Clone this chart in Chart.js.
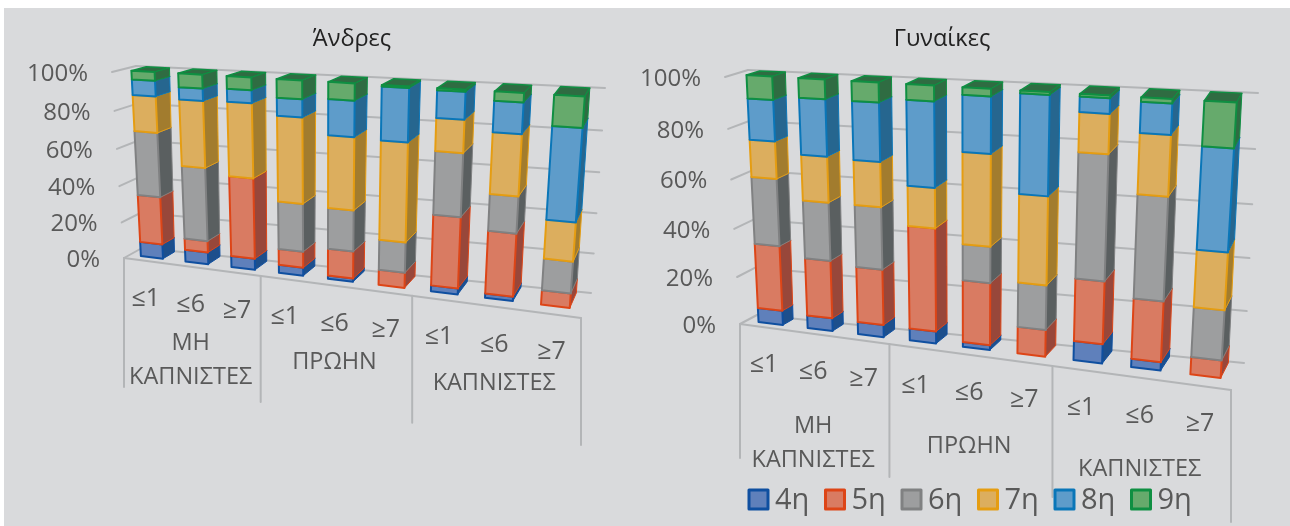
<!DOCTYPE html>
<html lang="el">
  <head>
    <meta charset="UTF-8" />
    <title>Άνδρες / Γυναίκες</title>
    <style>
      html, body {
        margin: 0;
        height: 100%;
        background: #fff;
        overflow: hidden;
      }
      #panel {
        position: absolute;
        left: 4px;
        top: 8px;
        right: 0;
        bottom: 0;
        background: #d9dadc;
      }
      canvas {
        position: absolute;
        top: 0;
      }
    </style>
  </head>
  <body>
    <div id="panel"></div>
    <canvas id="men" width="704" height="526" style="left: 0"></canvas>
    <canvas id="women" width="684" height="526" style="left: 600px"></canvas>

    <script src="https://cdn.jsdelivr.net/npm/chart.js"></script>

    <script>
      const doses = ['≤1', '≤6', '≥7', '≤1', '≤6', '≥7', '≤1', '≤6', '≥7'];
      const groups = [['ΜΗ', 'ΚΑΠΝΙΣΤΕΣ'], ['ΠΡΩΗΝ'], ['ΚΑΠΝΙΣΤΕΣ']];
      const seriesNames = ['4η', '5η', '6η', '7η', '8η', '9η'];
      const yTicks = [0, 20, 40, 60, 80, 100];
      const yTickLabels = ['0%', '20%', '40%', '60%', '80%', '100%'];

      const men4 = [8, 6.5, 6, 4.3, 1.7, 0, 3, 2.2, 0];
      const men5 = [26, 6.2, 42.8, 8.5, 14.2, 7.9, 36, 31.5, 7.2];
      const men6 = [34.5, 39.3, 0, 25.2, 21.3, 15.6, 31.2, 18, 15.7];
      const men7 = [19, 34.7, 38.4, 43.8, 36.7, 49.8, 15.8, 29.4, 18.9];
      const men8 = [8, 6.3, 6.5, 9, 17.8, 26, 13, 14.6, 44];
      const men9 = [4.5, 7, 6.3, 9.2, 8.3, 0.7, 1, 4.3, 14.2];

      const women4 = [6, 5.3, 5, 4.9, 1.9, 0, 7.6, 3.3, 0];
      const women5 = [26.9, 23.7, 22.6, 41.1, 24.8, 10.6, 24.3, 23.3, 6.7];
      const women6 = [27.2, 23.4, 24.8, 0, 14.2, 17.5, 47.2, 38.8, 19];
      const women7 = [14.8, 18.1, 17.6, 15.7, 35.2, 33.9, 14.4, 22, 21.4];
      const women8 = [16.1, 22, 22.5, 32.5, 21.1, 37, 5.5, 11, 37.1];
      const women9 = [9, 7.5, 7.5, 5.8, 2.8, 1, 1, 1.6, 15.8];

      const fills = ['#5f80bb', '#d97b62', '#9d9e9f', '#dcae5e', '#5e9cca', '#66aa6c'];
      const borders = ['#0f4fa0', '#dd4517', '#808182', '#e59d12', '#0a76b8', '#0f8f42'];
      const sides = ['#1d4f8c', '#98473a', '#5a5f60', '#a27c2e', '#26668f', '#2f6c42'];

      const TEXT = '#595959';
      const GRID = '#b3b5b7';
      const FONT = '"Open Sans", "Noto Sans", sans-serif';

      // unit square -> quad, corners in order (0,0) (1,0) (1,1) (0,1)
      function homography([p0, p1, p2, p3]) {
        const dx1 = p1[0] - p2[0];
        const dx2 = p3[0] - p2[0];
        const sx = p0[0] - p1[0] + p2[0] - p3[0];
        const dy1 = p1[1] - p2[1];
        const dy2 = p3[1] - p2[1];
        const sy = p0[1] - p1[1] + p2[1] - p3[1];
        const det = dx1 * dy2 - dx2 * dy1;
        const g = (sx * dy2 - dx2 * sy) / det;
        const h = (dx1 * sy - sx * dy1) / det;
        const a = p1[0] - p0[0] + g * p1[0];
        const b = p3[0] - p0[0] + h * p3[0];
        const d = p1[1] - p0[1] + g * p1[1];
        const e = p3[1] - p0[1] + h * p3[1];
        return (u, v) => {
          const w = g * u + h * v + 1;
          return [(a * u + b * v + p0[0]) / w, (d * u + e * v + p0[1]) / w];
        };
      }

      function polygon(ctx, pts, fill, stroke, lineWidth) {
        ctx.beginPath();
        pts.forEach((p, i) => (i ? ctx.lineTo(p[0], p[1]) : ctx.moveTo(p[0], p[1])));
        ctx.closePath();
        ctx.fillStyle = fill;
        ctx.fill();
        ctx.strokeStyle = stroke;
        ctx.lineWidth = lineWidth;
        ctx.stroke();
      }

      function line(ctx, a, b) {
        ctx.beginPath();
        ctx.moveTo(a[0], a[1]);
        ctx.lineTo(b[0], b[1]);
        ctx.stroke();
      }

      // Draws the stacked bars as boxes standing in a tilted room. Everything
      // is placed from the pixels of the chart's own x and y scales.
      const boxes = {
        id: 'boxes',
        beforeDatasetsDraw(chart) {
          const o = chart.options.plugins.boxes;
          const { ctx, chartArea: area, scales } = chart;
          const shift = (q) => q.map((p) => [p[0] - o.originX, p[1]]);
          const front = homography(shift(o.front));
          const back = homography(shift(o.back));
          const project = (px, py, d) => {
            const u = (px - area.left) / area.width;
            const v = (area.bottom - py) / area.height;
            const f = front(u, v);
            const b = back(u, v);
            return [f[0] + (b[0] - f[0]) * d, f[1] + (b[1] - f[1]) * d];
          };

          ctx.save();
          ctx.lineCap = 'round';
          ctx.strokeStyle = GRID;
          ctx.lineWidth = 2;

          // walls and value labels
          ctx.font = `24px ${FONT}`;
          ctx.textAlign = 'right';
          ctx.textBaseline = 'middle';
          yTicks.forEach((tick, i) => {
            const y = scales.y.getPixelForValue(tick);
            const a = project(area.left, y, 0);
            const b = project(area.left, y, 1);
            const c = project(area.right, y, 1);
            line(ctx, a, b);
            line(ctx, b, c);
            ctx.fillStyle = TEXT;
            ctx.fillText(yTickLabels[i], a[0] - 24, a[1] + 2);
          });

          // floor edge and group separators
          line(ctx, project(area.left, area.bottom, 0), project(area.right, area.bottom, 0));
          o.dropLines.forEach((drop, k) => {
            const p = project(area.left + (area.width * k) / groups.length, area.bottom, 0);
            line(ctx, p, [p[0], p[1] + drop]);
          });

          // category labels
          ctx.textAlign = 'center';
          doses.forEach((label, i) => {
            const p = project(scales.x.getPixelForValue(i), area.bottom, 0);
            ctx.font = `25px ${FONT}`;
            ctx.fillStyle = TEXT;
            ctx.fillText(label, p[0], p[1] + o.doseOffset);
          });
          groups.forEach((lines, k) => {
            const p = project(area.left + (area.width * (k + 0.5)) / groups.length, area.bottom, 0);
            ctx.font = `23.5px ${FONT}`;
            ctx.fillStyle = TEXT;
            lines.forEach((text, j) => {
              ctx.fillText(text, p[0], p[1] + o.groupOffset + j * 34);
            });
          });

          // bars, bottom segment first so that each lid is covered by the next one
          ctx.lineJoin = 'round';
          const { near, far } = o;
          doses.forEach((_, i) => {
            chart.data.datasets.forEach((ds, s) => {
              const el = chart.getDatasetMeta(s).data[i];
              const { x, y, base, width } = el.getProps(['x', 'y', 'base', 'width'], true);
              if (Math.abs(base - y) < 0.01) return;
              const l = x - width / 2;
              const r = x + width / 2;
              polygon(ctx, [project(l, y, near), project(r, y, near), project(r, y, far), project(l, y, far)], ds.sideColor, ds.borderColor, 1.5);
              polygon(ctx, [project(r, base, near), project(r, base, far), project(r, y, far), project(r, y, near)], ds.sideColor, ds.borderColor, 1);
              polygon(ctx, [project(l, base, near), project(r, base, near), project(r, y, near), project(l, y, near)], ds.backgroundColor, ds.borderColor, 2);
            });
          });

          // series key
          if (o.key) {
            ctx.textAlign = 'left';
            ctx.font = `29px ${FONT}`;
            chart.data.datasets.forEach((ds, s) => {
              const x = o.key.x - o.originX + s * o.key.step;
              ctx.fillStyle = ds.backgroundColor;
              ctx.strokeStyle = ds.borderColor;
              ctx.lineWidth = 3;
              ctx.fillRect(x, o.key.y, 19, 19);
              ctx.strokeRect(x, o.key.y, 19, 19);
              ctx.fillStyle = TEXT;
              ctx.fillText(ds.label, x + 26, o.key.y + 11);
            });
          }
          ctx.restore();
          return false;
        },
      };

      function createChart(id, title, values, view) {
        return new Chart(document.getElementById(id), {
          type: 'bar',
          plugins: [boxes],
          data: {
            labels: doses,
            datasets: seriesNames.map((label, s) => ({
              label,
              data: values[s],
              backgroundColor: fills[s],
              borderColor: borders[s],
              sideColor: sides[s],
            })),
          },
          options: {
            responsive: false,
            animation: false,
            barPercentage: 0.5,
            categoryPercentage: 1,
            scales: {
              x: { stacked: true, display: false },
              y: { stacked: true, display: false, min: 0, max: 100 },
            },
            plugins: {
              title: {
                display: true,
                text: title,
                color: '#222',
                padding: { top: 25, bottom: 6 },
                font: { family: FONT, size: 23.5, weight: 'normal' },
              },
              legend: { display: false },
              tooltip: { enabled: false },
              boxes: view,
            },
          },
        });
      }

      createChart('men', 'Άνδρες', [men4, men5, men6, men7, men8, men9], {
        originX: 0,
        front: [[124, 258], [581, 318], [598, 102], [112, 72]],
        back: [[142, 248], [591, 293], [605, 88], [136, 66]],
        near: 0.33,
        far: 0.95,
        dropLines: [129, 126, 127, 127],
        doseOffset: 38,
        groupOffset: 77,
      });

      createChart('women', 'Γυναίκες', [women4, women5, women6, women7, women8, women9], {
        originX: 600,
        key: { x: 749, y: 490, step: 76.5 },
        front: [[740, 324], [1231, 390], [1250, 110], [725, 77]],
        back: [[757, 315], [1244, 363], [1258, 93], [748, 70]],
        near: 0.38,
        far: 0.95,
        dropLines: [134, 133, 131, 132],
        doseOffset: 38,
        groupOffset: 92,
      });
    </script>
  </body>
</html>
